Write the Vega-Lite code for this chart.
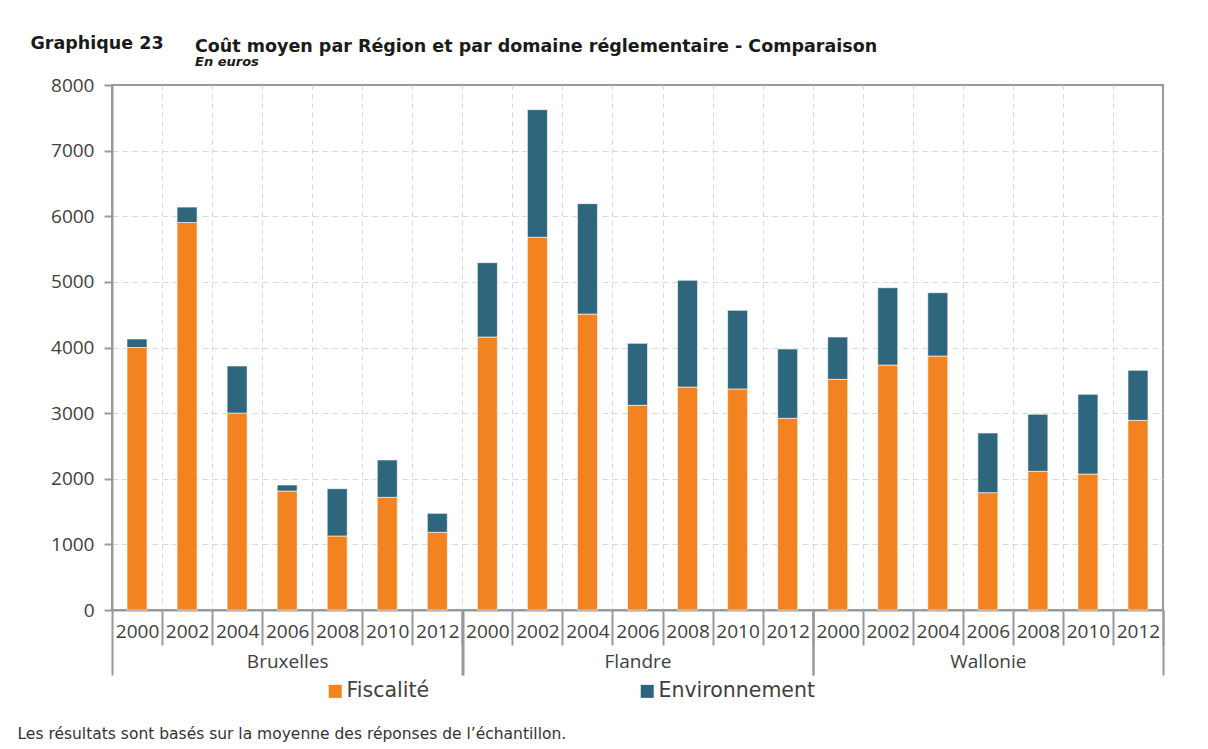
{
  "$schema": "https://vega.github.io/schema/vega-lite/v6.json",
  "width": 1051,
  "height": 525,
  "autosize": {"type": "none"},
  "padding": {"left": 112, "top": 85, "right": 45, "bottom": 139},
  "background": "white",
  "title": {
    "text": "Coût moyen par Région et par domaine réglementaire - Comparaison",
    "subtitle": "En euros",
    "anchor": "start",
    "frame": "group",
    "dx": 83,
    "dy": 53,
    "offset": 18,
    "font": "DejaVu Sans",
    "fontSize": 17.5,
    "fontWeight": "bold",
    "color": "#1a1a1a",
    "subtitleFont": "DejaVu Sans",
    "subtitleFontSize": 13,
    "subtitleFontStyle": "italic",
    "subtitleFontWeight": "bold",
    "subtitleColor": "#1a1a1a",
    "subtitlePadding": 1
  },
  "data": {
    "values": [
      {"bar": "Bruxelles 2000", "region": "Bruxelles", "domaine": "Fiscalité", "value": 4000},
      {"bar": "Bruxelles 2000", "region": "Bruxelles", "domaine": "Environnement", "value": 130},
      {"bar": "Bruxelles 2002", "region": "Bruxelles", "domaine": "Fiscalité", "value": 5905},
      {"bar": "Bruxelles 2002", "region": "Bruxelles", "domaine": "Environnement", "value": 235},
      {"bar": "Bruxelles 2004", "region": "Bruxelles", "domaine": "Fiscalité", "value": 3000},
      {"bar": "Bruxelles 2004", "region": "Bruxelles", "domaine": "Environnement", "value": 718},
      {"bar": "Bruxelles 2006", "region": "Bruxelles", "domaine": "Fiscalité", "value": 1813},
      {"bar": "Bruxelles 2006", "region": "Bruxelles", "domaine": "Environnement", "value": 92},
      {"bar": "Bruxelles 2008", "region": "Bruxelles", "domaine": "Fiscalité", "value": 1128},
      {"bar": "Bruxelles 2008", "region": "Bruxelles", "domaine": "Environnement", "value": 721},
      {"bar": "Bruxelles 2010", "region": "Bruxelles", "domaine": "Fiscalité", "value": 1717},
      {"bar": "Bruxelles 2010", "region": "Bruxelles", "domaine": "Environnement", "value": 569},
      {"bar": "Bruxelles 2012", "region": "Bruxelles", "domaine": "Fiscalité", "value": 1184},
      {"bar": "Bruxelles 2012", "region": "Bruxelles", "domaine": "Environnement", "value": 289},
      {"bar": "Flandre 2000", "region": "Flandre", "domaine": "Fiscalité", "value": 4160},
      {"bar": "Flandre 2000", "region": "Flandre", "domaine": "Environnement", "value": 1133},
      {"bar": "Flandre 2002", "region": "Flandre", "domaine": "Fiscalité", "value": 5680},
      {"bar": "Flandre 2002", "region": "Flandre", "domaine": "Environnement", "value": 1944},
      {"bar": "Flandre 2004", "region": "Flandre", "domaine": "Fiscalité", "value": 4510},
      {"bar": "Flandre 2004", "region": "Flandre", "domaine": "Environnement", "value": 1682},
      {"bar": "Flandre 2006", "region": "Flandre", "domaine": "Fiscalité", "value": 3119},
      {"bar": "Flandre 2006", "region": "Flandre", "domaine": "Environnement", "value": 944},
      {"bar": "Flandre 2008", "region": "Flandre", "domaine": "Fiscalité", "value": 3398},
      {"bar": "Flandre 2008", "region": "Flandre", "domaine": "Environnement", "value": 1626},
      {"bar": "Flandre 2010", "region": "Flandre", "domaine": "Fiscalité", "value": 3368},
      {"bar": "Flandre 2010", "region": "Flandre", "domaine": "Environnement", "value": 1198},
      {"bar": "Flandre 2012", "region": "Flandre", "domaine": "Fiscalité", "value": 2921},
      {"bar": "Flandre 2012", "region": "Flandre", "domaine": "Environnement", "value": 1056},
      {"bar": "Wallonie 2000", "region": "Wallonie", "domaine": "Fiscalité", "value": 3515},
      {"bar": "Wallonie 2000", "region": "Wallonie", "domaine": "Environnement", "value": 645},
      {"bar": "Wallonie 2002", "region": "Wallonie", "domaine": "Fiscalité", "value": 3733},
      {"bar": "Wallonie 2002", "region": "Wallonie", "domaine": "Environnement", "value": 1178},
      {"bar": "Wallonie 2004", "region": "Wallonie", "domaine": "Fiscalité", "value": 3870},
      {"bar": "Wallonie 2004", "region": "Wallonie", "domaine": "Environnement", "value": 965},
      {"bar": "Wallonie 2006", "region": "Wallonie", "domaine": "Fiscalité", "value": 1788},
      {"bar": "Wallonie 2006", "region": "Wallonie", "domaine": "Environnement", "value": 909},
      {"bar": "Wallonie 2008", "region": "Wallonie", "domaine": "Fiscalité", "value": 2113},
      {"bar": "Wallonie 2008", "region": "Wallonie", "domaine": "Environnement", "value": 868},
      {"bar": "Wallonie 2010", "region": "Wallonie", "domaine": "Fiscalité", "value": 2072},
      {"bar": "Wallonie 2010", "region": "Wallonie", "domaine": "Environnement", "value": 1214},
      {"bar": "Wallonie 2012", "region": "Wallonie", "domaine": "Fiscalité", "value": 2890},
      {"bar": "Wallonie 2012", "region": "Wallonie", "domaine": "Environnement", "value": 762}
    ]
  },
  "layer": [
    {
      "mark": {"type": "bar", "size": 20, "stroke": "white", "strokeWidth": 0.6},
      "encoding": {
        "x": {
          "field": "bar",
          "type": "nominal",
          "scale": {"paddingInner": 0, "paddingOuter": 0},
          "axis": {
            "orient": "bottom",
            "title": null,
            "labelExpr": "slice(datum.value, -4)",
            "tickOffset": 25,
            "labelOffset": -25,
            "tickSize": 35,
            "tickColor": "#999999",
            "tickWidth": 2,
            "domainColor": "#999999",
            "domainWidth": 2,
            "labelPadding": -23,
            "labelFont": "Open Sans",
            "labelFontSize": 19,
            "labelColor": "#404040",
            "labelAngle": 0,
            "labelBaseline": "top",
            "grid": true,
            "gridColor": "#d9d9d9",
            "gridDash": [5, 4],
            "gridWidth": 1,
            "gridOpacity": {"condition": {"test": "datum.value === 'Wallonie 2012'", "value": 0}, "value": 1}
          }
        },
        "y": {
          "field": "value",
          "type": "quantitative",
          "stack": "zero",
          "scale": {"domain": [0, 8000], "nice": false},
          "axis": {
            "title": "Graphique 23",
            "titleAngle": 0,
            "titleX": -82,
            "titleY": -37,
            "titleAlign": "left",
            "titleBaseline": "alphabetic",
            "titleFont": "DejaVu Sans",
            "titleFontSize": 17.5,
            "titleFontWeight": "bold",
            "titleColor": "#1a1a1a",
            "values": [0, 1000, 2000, 3000, 4000, 5000, 6000, 7000, 8000],
            "format": "d",
            "labelFont": "Open Sans",
            "labelFontSize": 19,
            "labelColor": "#404040",
            "labelPadding": 10,
            "tickSize": 8,
            "tickColor": "#999999",
            "tickWidth": 2,
            "domainColor": "#999999",
            "domainWidth": 2,
            "grid": true,
            "gridColor": "#d9d9d9",
            "gridDash": [6, 4],
            "gridWidth": 1,
            "gridOpacity": {"condition": {"test": "datum.value >= 8000", "value": 0}, "value": 1}
          }
        },
        "color": {
          "field": "domaine",
          "type": "nominal",
          "scale": {"domain": ["Fiscalité", "Environnement"], "range": ["#F38321", "#2E677D"]},
          "legend": {
            "title": null,
            "orient": "none",
            "legendX": 213,
            "legendY": 596,
            "direction": "horizontal",
            "symbolType": "square",
            "symbolSize": 169,
            "symbolStrokeWidth": 0,
            "labelFont": "DejaVu Sans",
            "labelFontSize": 20.5,
            "labelColor": "#404040",
            "labelOffset": 1,
            "columnPadding": 207
          }
        }
      }
    },
    {
      "mark": {"type": "bar", "opacity": 0},
      "encoding": {
        "x": {
          "field": "region",
          "type": "nominal",
          "scale": {"paddingInner": 0, "paddingOuter": 0},
          "axis": {
            "orient": "bottom",
            "title": "Les résultats sont basés sur la moyenne des réponses de l’échantillon.",
            "titleX": -95,
            "titleY": 128,
            "titleAlign": "left",
            "titleBaseline": "alphabetic",
            "titleFont": "DejaVu Sans",
            "titleFontSize": 15.5,
            "titleFontWeight": "normal",
            "titleColor": "#333333",
            "tickOffset": -175,
            "labelOffset": 175,
            "tickSize": 65,
            "tickColor": "#999999",
            "tickWidth": 2,
            "domain": false,
            "labelPadding": -23,
            "labelFont": "Open Sans",
            "labelFontSize": 19,
            "labelColor": "#404040",
            "labelAngle": 0,
            "labelBaseline": "top",
            "grid": false
          }
        }
      }
    },
    {
      "mark": {"type": "bar", "opacity": 0},
      "encoding": {
        "x": {
          "field": "region",
          "type": "nominal",
          "scale": {"paddingInner": 0, "paddingOuter": 0},
          "axis": {
            "orient": "bottom",
            "title": null,
            "labels": false,
            "tickOffset": 175,
            "tickSize": 65,
            "tickColor": "#999999",
            "tickWidth": 2,
            "domain": false,
            "grid": false
          }
        }
      }
    }
  ],
  "resolve": {"scale": {"x": "independent"}, "axis": {"x": "independent"}},
  "config": {
    "view": {"stroke": "#999999", "strokeWidth": 2}
  }
}
